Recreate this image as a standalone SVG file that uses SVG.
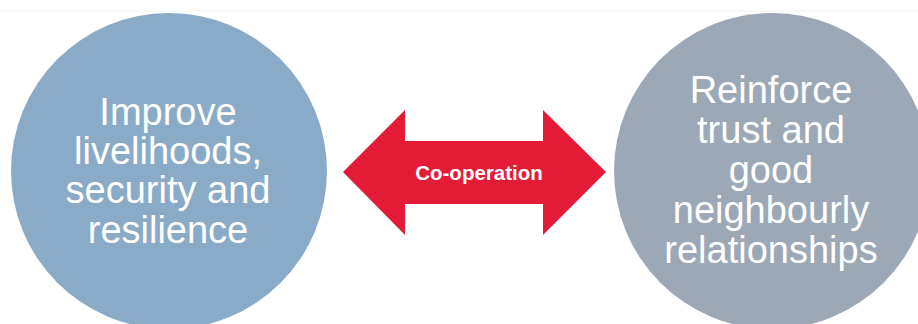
<svg xmlns="http://www.w3.org/2000/svg" width="918" height="324" viewBox="0 0 918 324">
  <style>
    .lbl { font-family: "Liberation Sans", Arial, sans-serif; fill: #ffffff; text-anchor: middle; }
    .big { font-size: 38px; }
    .arrowlbl { font-size: 20.5px; font-weight: bold; }
  </style>
  <rect x="0" y="0" width="918" height="324" fill="#ffffff"/>
  <line x1="0" y1="11" x2="918" y2="11" stroke="#f3f3f3" stroke-width="1"/>
  <g id="node-livelihoods">
    <circle cx="169" cy="171" r="158" fill="#8aabc8"/>
    <text class="lbl big" x="168" y="125">Improve</text>
    <text class="lbl big" x="168" y="164">livelihoods,</text>
    <text class="lbl big" x="168" y="203">security and</text>
    <text class="lbl big" x="168" y="243">resilience</text>
  </g>
  <g id="node-trust">
    <circle cx="772" cy="171" r="158" fill="#9ca8b5"/>
    <text class="lbl big" x="771" y="103">Reinforce</text>
    <text class="lbl big" x="771" y="143">trust and</text>
    <text class="lbl big" x="771" y="183">good</text>
    <text class="lbl big" x="771" y="223">neighbourly</text>
    <text class="lbl big" x="771" y="263">relationships</text>
  </g>
  <g id="connectors">
    <polygon points="343,172 405,110 405,141 543,141 543,110 606,172 543,235 543,204 405,204 405,235" fill="#e31b37"/>
    <text class="lbl arrowlbl" x="479" y="180">Co-operation</text>
  </g>
</svg>
